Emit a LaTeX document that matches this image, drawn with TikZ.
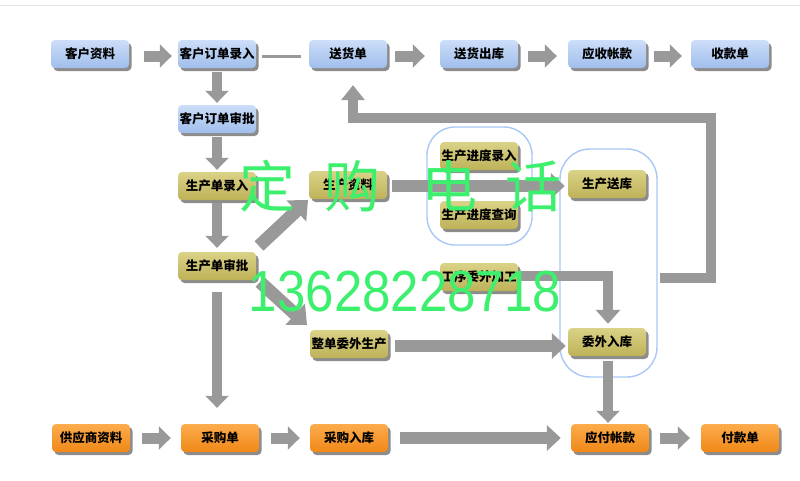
\documentclass[tikz,border=0pt]{standalone}
\usepackage{fontspec}
\newfontfamily\cjk{Noto Sans CJK SC}
\newfontfamily\numfont{Liberation Sans}
\usetikzlibrary{arrows.meta,shadows,calc}
\definecolor{arrowgray}{HTML}{999999}
\definecolor{grpblue}{HTML}{A9C8F5}
\definecolor{wmgreen}{RGB}{60,240,110}
\tikzset{
  box/.style={rounded corners=4pt, minimum width=78pt, minimum height=28pt, inner sep=0pt,
    font=\cjk\bfseries\fontsize{12.5}{12.5}\selectfont, text=black,
    general shadow={fill=black!60, opacity=0.75, shadow xshift=2.5pt, shadow yshift=-3pt}},
  bluebox/.style={box, top color={rgb,255:red,204;green,222;blue,248}, bottom color={rgb,255:red,160;green,190;blue,236}},
  olivebox/.style={box, top color={rgb,255:red,218;green,210;blue,136}, bottom color={rgb,255:red,190;green,178;blue,88}},
  orangebox/.style={box, top color={rgb,255:red,252;green,172;blue,76}, bottom color={rgb,255:red,240;green,136;blue,24}},
  blk/.style={draw=arrowgray, line width=11pt, -{Triangle[length=12pt,width=23pt]}, arrowgray},
  blkb/.style={draw=arrowgray, line width=12pt, -{Triangle[length=14pt,width=25pt]}, arrowgray},
  grp/.style={draw=grpblue, line width=1.4pt, rounded corners=28pt, inner sep=0pt},
  wm/.style={text=wmgreen, inner sep=0pt}
}
\begin{document}
\begin{tikzpicture}[x=1pt,y=-1pt]
\useasboundingbox (0,0) rectangle (800,480);
\fill[white] (0,0) rectangle (800,480);
\coordinate (tl) at (0,5);
\coordinate (tr) at (800,5);
\draw[black!10, line width=1pt] (tl) -- (tr);

% group outlines
\node[grp, minimum width=105pt, minimum height=118pt] (g1) at (479.5,186) {};
\node[grp, minimum width=97pt, minimum height=228pt, rounded corners=30pt] (g2) at (608.5,263) {};

% boxes
\node[bluebox] (kh) at (90,54) {客户资料};
\node[bluebox] (khlr) at (217,54) {客户订单录入};
\node[bluebox] (shd) at (348,54) {送货单};
\node[bluebox] (shck) at (479,54) {送货出库};
\node[bluebox] (ysk) at (607,54) {应收帐款};
\node[bluebox] (skd) at (730,54) {收款单};
\node[bluebox] (khsp) at (217,119) {客户订单审批};

\node[olivebox] (scdlr) at (217,186) {生产单录入};
\node[olivebox] (scdsp) at (217,266) {生产单审批};
\node[olivebox] (sczl) at (348,185) {生产资料};
\node[olivebox] (zdww) at (349,344) {整单委外生产};
\node[olivebox] (jdlr) at (479,156) {生产进度录入};
\node[olivebox] (jdcx) at (479,215) {生产进度查询};
\node[olivebox] (gxww) at (479,277) {工序委外加工};
\node[olivebox] (scsk) at (607,184) {生产送库};
\node[olivebox] (wwrk) at (607,342) {委外入库};

\node[orangebox] (gys) at (91,438) {供应商资料};
\node[orangebox] (cgd) at (220,438) {采购单};
\node[orangebox] (cgrk) at (349,438) {采购入库};
\node[orangebox] (yfzk) at (610,438) {应付帐款};
\node[orangebox] (fkd) at (740,438) {付款单};

% top row arrows
\draw[blk] ([xshift=15pt,yshift=-2pt]kh.east) -- ([xshift=-6pt,yshift=-2pt]khlr.west);
\draw[arrowgray, line width=3pt] ([xshift=6pt,yshift=-2pt]khlr.east) -- ([xshift=-8pt,yshift=-2pt]shd.west);
\draw[blk] ([xshift=8pt,yshift=-2pt]shd.east) -- ([xshift=-15pt,yshift=-2pt]shck.west);
\draw[blk] ([xshift=10pt,yshift=-2pt]shck.east) -- ([xshift=-11pt,yshift=-2pt]ysk.west);
\draw[blk] ([xshift=8pt,yshift=-2pt]ysk.east) -- ([xshift=-9pt,yshift=-2pt]skd.west);

% column arrows
\draw[blk, line width=10pt] ([yshift=-4pt]khlr.south) -- ([yshift=2pt]khsp.north);
\draw[blk, line width=10pt] ([yshift=-4pt]khsp.south) -- ([yshift=2pt]scdlr.north);
\draw[blk, line width=10pt] ([yshift=-3pt]scdlr.south) -- ([yshift=4pt]scdsp.north);
\draw[blk, line width=10pt] ([yshift=-12pt]scdsp.south) -- ([yshift=16pt]cgd.north -| scdsp.south);

% diagonals
\draw[blkb, line width=13pt, -{Triangle[length=16pt,width=28pt]}] ($(scdsp.center)+(42,-20)$) -- ($(sczl.center)+(-40,15)$);
\draw[blkb, line width=13pt, -{Triangle[length=16pt,width=28pt]}] ($(scdsp.center)+(43,16)$) -- ($(zdww.center)+(-42,-19)$);

% long horizontals
\coordinate (a1s) at ($(sczl.east)+(5,1)$);
\draw[blkb] (a1s) -- ([xshift=-3pt]a1s -| scsk.west);
\coordinate (a2s) at ($(zdww.east)+(7,2)$);
\draw[blkb] (a2s) -- ([xshift=-2pt]a2s -| wwrk.west);
\draw[blk, line width=10pt, -{Triangle[length=14pt,width=24pt]}] ([yshift=1pt]gxww.east) -| ([xshift=1pt,yshift=4pt]wwrk.north);
\draw[blk, line width=10pt] ([xshift=1pt,yshift=-5pt]wwrk.south) -- ([xshift=-2pt,yshift=1pt]yfzk.north);

% feedback loop
\coordinate (fb) at (660,278);
\coordinate (fbc1) at (711,278);
\coordinate (fbc2) at (711,118);
\draw[blk, line width=10pt, -{Triangle[length=15pt,width=23pt]}] (fb) -- (fbc1) -- (fbc2) -| ($(shd.south)+(5,17)$);

% bottom row arrows
\draw[blk] ([xshift=12pt]gys.east) -- ([xshift=-10pt]cgd.west);
\draw[blk] ([xshift=12pt]cgd.east) -- ([xshift=-10pt]cgrk.west);
\draw[blkb] ([xshift=12pt]cgrk.east) -- ([xshift=-10pt]yfzk.west);
\draw[blk] ([xshift=11pt]yfzk.east) -- ([xshift=-11pt]fkd.west);

% watermark
\node[wm, font=\cjk\fontsize{56}{56}\selectfont] (w1) at (267,186) {定};
\node[wm, font=\cjk\fontsize{56}{56}\selectfont] (w2) at (352,186) {购};
\node[wm, font=\cjk\fontsize{56}{56}\selectfont] (w3) at (449,186) {电};
\node[wm, font=\cjk\fontsize{56}{56}\selectfont] (w4) at (533,186) {话};
\node[wm, font=\numfont\fontsize{58}{58}\selectfont, xscale=0.88] (w5) at (405,292) {13628228718};
\end{tikzpicture}
\end{document}
